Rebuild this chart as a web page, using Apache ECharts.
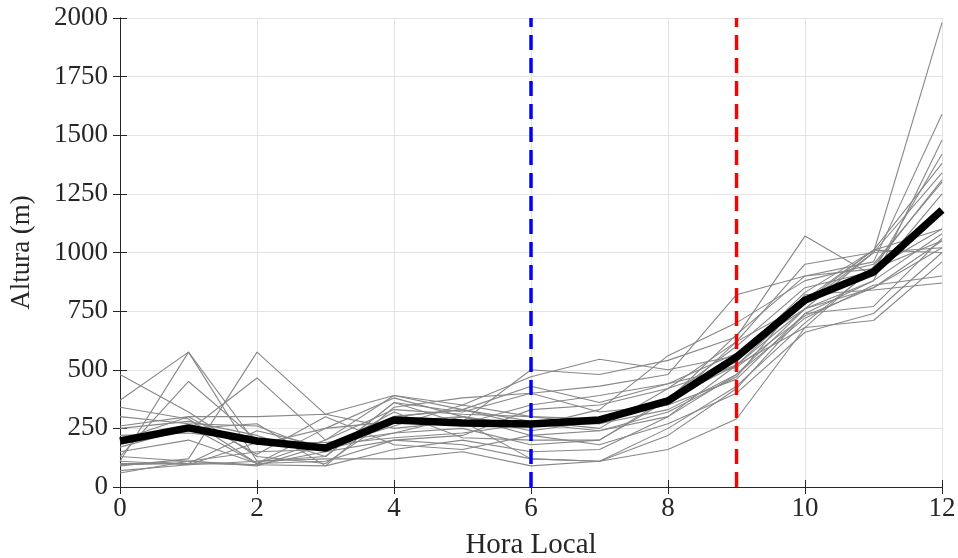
<!DOCTYPE html>
<html><head><meta charset="utf-8">
<script src="https://cdn.jsdelivr.net/npm/echarts@6/dist/echarts.min.js"></script>
<style>html,body{margin:0;padding:0;background:#fff}#c{width:958px;height:558px}</style>
</head><body><div id="c"></div>
<script>
const hours = [0,1,2,3,4,5,6,7,8,9,10,11,12];
const xTicks = [0,2,4,6,8,10,12];
const yTicks = [0,250,500,750,1000,1250,1500,1750,2000];
const meanValues = [196,252,196,166,286,273,269,286,367,554,797,917,1181];
const blueLineHour = 6;
const redLineHour = 9;
const g1 = [480,320,130,100,300,330,280,250,420,620,780,1000,1980];
const g2 = [370,575,110,130,360,320,400,430,480,820,900,960,1590];
const g3 = [110,575,180,250,280,300,220,240,300,520,760,880,1480];
const g4 = [130,450,200,160,230,250,180,200,380,600,850,920,1420];
const g5 = [90,120,575,310,390,350,470,545,500,560,800,1010,1380];
const g6 = [200,240,465,200,330,310,300,290,350,620,950,1000,1340];
const g7 = [340,290,100,250,380,300,260,330,560,700,880,950,1300];
const g8 = [260,300,300,310,250,280,500,480,540,640,1070,900,1250];
const g9 = [300,270,260,150,200,220,330,350,420,520,790,1010,1100];
const g10 = [170,250,270,90,340,380,400,320,350,460,740,880,1080];
const g11 = [150,200,100,110,200,180,120,110,250,430,700,930,1050];
const g12 = [95,110,95,90,160,200,150,160,300,480,760,850,1020];
const g13 = [100,100,240,170,300,330,260,270,380,550,830,1010,1000];
const g14 = [70,95,110,120,120,150,90,110,160,290,680,710,960];
const g15 = [60,110,90,180,210,230,270,240,320,470,820,840,870];
const g16 = [220,230,200,170,260,350,300,270,330,480,720,860,900];
const g17 = [250,280,220,130,360,270,350,390,440,510,730,850,1050];
const g18 = [130,110,150,160,320,210,200,200,370,520,680,940,1310];
const g19 = [110,95,190,190,230,300,240,280,370,650,900,930,1100];
const g20 = [200,300,140,300,180,160,220,180,270,400,660,740,1000];
const g21 = [190,260,100,200,390,330,430,360,440,570,760,1000,1020];
const g22 = [95,100,95,150,290,280,120,110,220,420,740,770,1060];
const grayLines = [g1,g2,g3,g4,g5,g6,g7,g8,g9,g10,g11,g12,g13,g14,g15,g16,g17,g18,g19,g20,g21,g22];

const FONT = 'Liberation Serif';
const TXT = '#262626';
const chart = echarts.init(document.getElementById('c'));
const series = [];
grayLines.forEach(arr => series.push({
  type:'line', xAxisIndex:0, yAxisIndex:0, data: hours.map((h,i)=>[h,arr[i]]),
  symbol:'none', lineStyle:{color:'#878787', width:1.1}, silent:true, z:2
}));
series.push({
  type:'line', data: hours.map((h,i)=>[h,meanValues[i]]), symbol:'none',
  lineStyle:{color:'#000', width:7.5}, z:5
});
series.push({type:'line', data:[[blueLineHour,0],[blueLineHour,2000]], symbol:'none',
  lineStyle:{color:'#0000ff', width:3.5, type:[15,8]}, z:4});
series.push({type:'line', data:[[redLineHour,0],[redLineHour,2000]], symbol:'none',
  lineStyle:{color:'#ff0000', width:3.5, type:[15,8]}, z:4});

const axLine = {show:true, lineStyle:{color:TXT, width:1}};
chart.setOption({
  animation:false,
  grid:{left:120, right:16, top:18, bottom:71, containLabel:false, outerBoundsMode:'none'},
  xAxis:[{
    type:'value', min:0, max:12, interval:2, position:'bottom',
    axisLine:axLine, axisTick:{show:true, inside:true, length:7, lineStyle:{color:TXT}},
    axisLabel:{fontFamily:FONT, fontSize:27, color:TXT, margin:8,
      formatter:v=>xTicks.includes(v)?String(v):''},
    splitLine:{show:true, lineStyle:{color:'#e3e3e3', width:1}},
    name:'Hora Local', nameLocation:'middle', nameGap:44,
    nameTextStyle:{fontFamily:FONT, fontSize:29, color:TXT}
  },{
    type:'value', min:0, max:12, interval:2, position:'top',
    axisLine:axLine, axisTick:{show:true, inside:true, length:7, lineStyle:{color:TXT}},
    axisLabel:{show:false}, splitLine:{show:false}
  }],
  yAxis:[{
    type:'value', min:0, max:2000, interval:250, position:'left',
    axisLine:axLine, axisTick:{show:true, inside:true, length:7, lineStyle:{color:TXT}},
    axisLabel:{fontFamily:FONT, fontSize:27, color:TXT, margin:12,
      formatter:v=>yTicks.includes(v)?String(v):''},
    splitLine:{show:true, lineStyle:{color:'#e3e3e3', width:1}},
    name:'Altura (m)', nameLocation:'middle', nameGap:85, nameRotate:90,
    nameTextStyle:{fontFamily:FONT, fontSize:27, color:TXT}
  },{
    type:'value', min:0, max:2000, interval:250, position:'right',
    axisLine:axLine, axisTick:{show:true, inside:true, length:7, lineStyle:{color:TXT}},
    axisLabel:{show:false}, splitLine:{show:false}
  }],
  series: series
});
</script></body></html>
